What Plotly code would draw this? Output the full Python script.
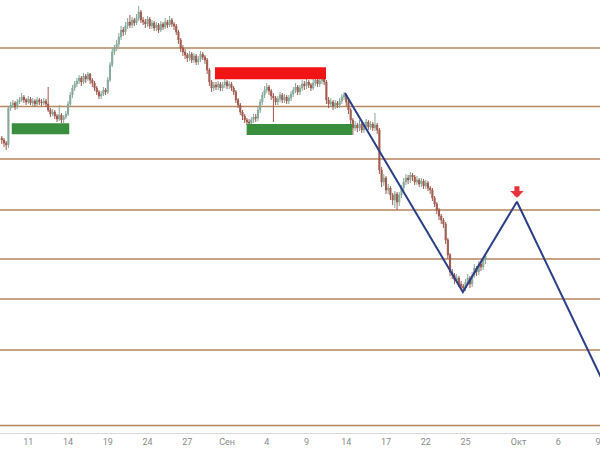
import plotly.graph_objects as go

# ---------------- data (4H bars, price units) ----------------
first_open = 362
close = [
    360, 357, 355, 392, 395, 397,
    393, 398, 400, 403, 400, 398,
    401, 397, 399, 396, 400, 398,
    397, 399, 396, 390, 386, 388,
    384, 381, 385, 380, 383, 386,
    396, 405, 412, 416, 419, 422,
    418, 424, 421, 426, 420, 417,
    412, 408, 404, 406, 410, 408,
    420, 435, 448, 452, 456, 463,
    470, 468, 474, 478, 475, 480,
    477, 482, 488, 480, 478, 476,
    481, 474, 477, 472, 475, 470,
    476, 473, 478, 475, 480, 476,
    474, 468, 460, 452, 448, 445,
    442, 446, 440, 444, 438, 441,
    446, 443, 440, 430, 418, 412,
    415, 413, 416, 412, 415, 418,
    414, 416, 412, 408, 400, 395,
    388, 384, 380, 378, 377, 380,
    383, 382, 390, 398, 405, 410,
    413, 409, 404, 402, 398, 401,
    405, 400, 403, 399, 402, 406,
    410, 413, 408, 412, 416, 414,
    418, 415, 412, 417, 420, 416,
    419, 421, 418, 400, 396, 398,
    394, 397, 395, 399, 403, 405,
    398, 390, 380, 372, 375, 372,
    376, 370, 374, 378, 373, 376,
    372, 375, 370, 330, 318, 322,
    310, 312, 305, 300, 306, 298,
    305, 312, 318, 322, 320, 325,
    323, 318, 320, 316, 319, 314,
    317, 312, 310, 302, 296, 290,
    284, 280, 276, 260, 245, 228,
    225, 220, 222, 216, 214, 212,
    218, 222, 216, 225, 232, 228,
    236, 233, 240, 244,
]
high = [
    364, 362, 359, 394, 398, 400,
    399, 401, 403, 407, 405, 402,
    404, 403, 402, 401, 403, 402,
    401, 402, 401, 413, 392, 391,
    390, 386, 395, 387, 385, 389,
    399, 408, 415, 419, 422, 425,
    424, 427, 426, 428, 427, 422,
    419, 414, 410, 409, 413, 412,
    423, 438, 452, 455, 460, 467,
    474, 473, 478, 482, 485, 483,
    482, 486, 494, 490, 483, 481,
    484, 483, 480, 479, 478, 477,
    479, 478, 482, 480, 484, 482,
    478, 476, 470, 462, 455, 451,
    447, 449, 448, 447, 446, 444,
    449, 448, 445, 442, 432, 420,
    418, 418, 419, 418, 418, 421,
    420, 419, 418, 414, 410, 402,
    397, 390, 386, 382, 381, 383,
    386, 386, 393, 401, 408, 414,
    417, 415, 411, 407, 404, 404,
    408, 407, 406, 405, 405, 409,
    413, 417, 415, 415, 420, 419,
    422, 420, 417, 421, 424, 422,
    423, 425, 423, 420, 403, 402,
    400, 400, 399, 402, 406, 408,
    406, 400, 392, 382, 379, 377,
    380, 378, 378, 381, 380, 379,
    378, 387, 377, 372, 333, 326,
    324, 316, 314, 307, 309, 308,
    308, 315, 322, 326, 325, 328,
    327, 325, 324, 322, 322, 321,
    320, 319, 314, 312, 304, 298,
    292, 286, 282, 278, 262, 247,
    231, 227, 226, 224, 219, 216,
    221, 226, 224, 228, 236, 234,
    239, 239, 243, 246,
]
low = [
    356, 353, 350, 352, 389, 392,
    390, 391, 396, 398, 397, 395,
    396, 395, 394, 393, 394, 395,
    394, 395, 393, 388, 383, 384,
    381, 378, 379, 377, 377, 381,
    384, 393, 402, 409, 413, 416,
    414, 416, 417, 419, 416, 413,
    409, 405, 401, 401, 404, 405,
    406, 418, 433, 445, 449, 453,
    460, 464, 465, 471, 472, 472,
    474, 475, 479, 477, 475, 472,
    473, 471, 471, 469, 469, 467,
    468, 470, 471, 472, 473, 473,
    470, 465, 456, 448, 444, 441,
    438, 439, 437, 437, 435, 435,
    438, 440, 436, 426, 414, 408,
    409, 410, 410, 409, 409, 412,
    411, 411, 409, 405, 397, 392,
    385, 380, 377, 375, 374, 374,
    377, 378, 379, 387, 395, 402,
    407, 405, 400, 378, 395, 395,
    398, 397, 397, 396, 396, 399,
    403, 407, 405, 405, 409, 410,
    411, 412, 409, 410, 414, 413,
    413, 416, 415, 396, 392, 393,
    390, 391, 392, 392, 396, 400,
    394, 386, 376, 365, 369, 368,
    369, 367, 367, 371, 370, 370,
    369, 369, 366, 326, 313, 314,
    306, 306, 300, 295, 292, 290,
    294, 302, 309, 315, 316, 317,
    319, 315, 315, 313, 313, 311,
    311, 309, 306, 299, 293, 286,
    280, 276, 272, 256, 241, 224,
    221, 216, 217, 213, 210, 208,
    209, 215, 212, 213, 222, 224,
    225, 229, 230, 236,
]
open_ = [first_open] + close[:-1]
bars_per_day = 6
first_bar_day = -2
bar_day = [first_bar_day + i / bars_per_day for i in range(len(close))]

levels = [452, 393.5, 341, 290, 241, 201, 150, 74.4]

# zones: (day_start, day_end, price_low, price_high)
support_zones = [(-1.25, 3.09, 365.7, 376.7), (16.48, 24.45, 365.0, 376.0)]
resistance_zones = [(14.09, 22.47, 420.7, 432.7)]

zigzag_day = [23.9, 32.8, 36.88, 44.5]
zigzag_price = [407, 208, 298.3, 87.3]

tick_days = [0, 3, 6, 9, 12, 15, 18, 21, 24, 27, 30, 33, 37, 40, 43]
tick_text = ["11", "14", "19", "24", "27", "Сен", "4", "9", "14", "17",
             "22", "25", "Окт", "6", "9"]

x_range = [-2.136, 43.15]
y_range = [67, 500]

# ---------------- figure ----------------
fig = go.Figure()

shapes = []
for lv in levels:
    shapes.append(dict(type="line", xref="paper", x0=0, x1=1, yref="y", y0=lv, y1=lv,
                       line=dict(color="#b7855c", width=1.5), layer="below"))
for d0, d1, p0, p1 in support_zones:
    shapes.append(dict(type="rect", xref="x", yref="y", x0=d0, x1=d1, y0=p0, y1=p1,
                       fillcolor="#3a8f3e", line=dict(width=0), layer="above"))
for d0, d1, p0, p1 in resistance_zones:
    shapes.append(dict(type="rect", xref="x", yref="y", x0=d0, x1=d1, y0=p0, y1=p1,
                       fillcolor="#f01414", line=dict(width=0), layer="above"))

fig.add_trace(go.Candlestick(
    x=bar_day, open=open_, high=high, low=low, close=close,
    increasing=dict(line=dict(color="#86a99a", width=1), fillcolor="#86a99a"),
    decreasing=dict(line=dict(color="#a05a4e", width=1), fillcolor="#a05a4e"),
    whiskerwidth=0, showlegend=False, hoverinfo="skip",
))

fig.add_trace(go.Scatter(
    x=zigzag_day, y=zigzag_price, mode="lines",
    line=dict(color="#2b3f86", width=2), showlegend=False, hoverinfo="skip",
))

fig.add_annotation(
    x=zigzag_day[2], y=zigzag_price[2], xref="x", yref="y",
    text="", showarrow=True, ax=0, ay=-17, standoff=4,
    arrowhead=1, arrowsize=0.45, arrowwidth=5, arrowcolor="#e8323c",
)

fig.update_layout(
    width=600, height=450,
    margin=dict(l=0, r=0, t=0, b=17, autoexpand=False),
    paper_bgcolor="white", plot_bgcolor="white",
    shapes=shapes,
    showlegend=False,
    xaxis=dict(range=x_range, showgrid=False, zeroline=False, automargin=False,
               rangeslider=dict(visible=False),
               tickmode="array", tickvals=tick_days, ticktext=tick_text,
               ticks="", ticklabelstandoff=0, ticklabeloverflow="allow",
               tickfont=dict(family="Roboto, Arial, sans-serif", size=9, color="#8a8a8a"),
               showline=True, linecolor="#d8d8d8", linewidth=1, mirror=False),
    yaxis=dict(range=y_range, visible=False, showgrid=False, zeroline=False, automargin=False),
)

fig.write_html("out.html",
               config={"displayModeBar": False},
               post_script="document.body.style.margin='0';document.body.style.overflow='hidden';")
